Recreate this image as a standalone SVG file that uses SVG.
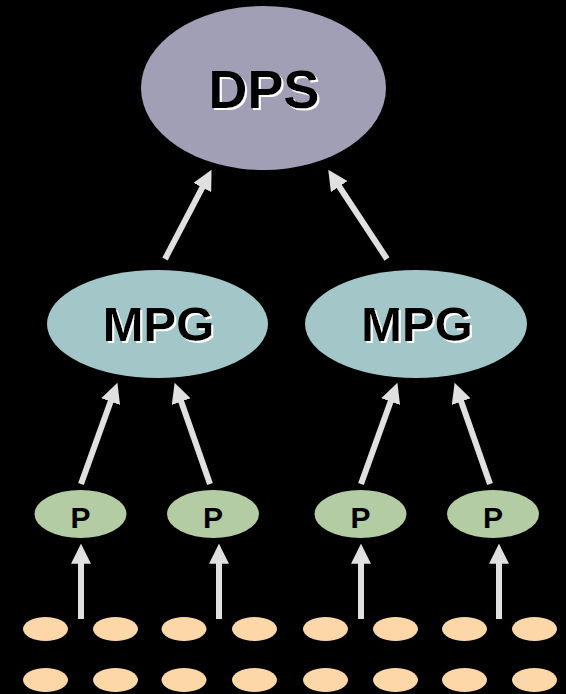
<svg xmlns="http://www.w3.org/2000/svg" width="566" height="694" viewBox="0 0 566 694">
<style>
.bg{fill:#000}
.dps{fill:#a09fb6}
.mpg{fill:#a3c6c8}
.p{fill:#b4cca3}
.leaf{fill:#fed7a8}
.t{font-family:"Liberation Sans",Arial,sans-serif;font-weight:bold;text-anchor:middle;fill:#000}
.shd{filter:url(#wsh)}
.arr{stroke:#e0e0e0;stroke-width:6;fill:none;marker-end:url(#ah)}
</style>
<defs>
<marker id="ah" markerUnits="userSpaceOnUse" markerWidth="20" markerHeight="20" viewBox="0 0 18 18" refX="6" refY="9" orient="auto">
<path d="M0,0 L18,9 L0,18 z" fill="#e0e0e0"/>
</marker>
<filter id="wsh" x="-10%" y="-10%" width="130%" height="130%">
<feFlood flood-color="#fff" result="w"/>
<feComposite in="w" in2="SourceAlpha" operator="in" result="ws"/>
<feOffset in="ws" dx="2" dy="1.5" result="off"/>
<feMerge><feMergeNode in="off"/><feMergeNode in="SourceGraphic"/></feMerge>
</filter>
</defs>
<rect class="bg" x="0" y="0" width="566" height="694"/>
<g id="connectors">
<line class="arr" x1="165" y1="259" x2="205.4" y2="181.6"/>
<line class="arr" x1="387" y1="259" x2="335.6" y2="181"/>
<line class="arr" x1="81" y1="484" x2="112.9" y2="395.3"/>
<line class="arr" x1="210" y1="484" x2="179" y2="395.3"/>
<line class="arr" x1="361" y1="484" x2="392.9" y2="395.3"/>
<line class="arr" x1="490" y1="484" x2="459" y2="395.3"/>
<line class="arr" x1="81" y1="619" x2="81" y2="557"/>
<line class="arr" x1="219" y1="619" x2="219" y2="557"/>
<line class="arr" x1="361" y1="619" x2="361" y2="557"/>
<line class="arr" x1="499" y1="619" x2="499" y2="557"/>
</g>
<g id="dps">
<ellipse class="dps" cx="263.5" cy="88" rx="122.5" ry="82"/>
<text class="t shd" x="264" y="108" font-size="54">DPS</text>
</g>
<g id="mpg1">
<ellipse class="mpg" cx="157.5" cy="324" rx="110.5" ry="54"/>
<text class="t shd" x="158.5" y="341" font-size="49">MPG</text>
</g>
<g id="mpg2">
<ellipse class="mpg" cx="416" cy="324" rx="111" ry="54"/>
<text class="t shd" x="417" y="341" font-size="49">MPG</text>
</g>
<g id="p1"><ellipse class="p" cx="80.5" cy="514" rx="46" ry="24"/><text class="t" x="80.5" y="528" font-size="30">P</text></g>
<g id="p2"><ellipse class="p" cx="213" cy="514" rx="46" ry="24"/><text class="t" x="213" y="528" font-size="30">P</text></g>
<g id="p3"><ellipse class="p" cx="360.5" cy="514" rx="46" ry="24"/><text class="t" x="360.5" y="528" font-size="30">P</text></g>
<g id="p4"><ellipse class="p" cx="493" cy="514" rx="46" ry="24"/><text class="t" x="493" y="528" font-size="30">P</text></g>
<g id="leaves">
<ellipse class="leaf" cx="45.5" cy="629" rx="22.5" ry="12"/>
<ellipse class="leaf" cx="115.5" cy="629" rx="22.5" ry="12"/>
<ellipse class="leaf" cx="184" cy="629" rx="22.5" ry="12"/>
<ellipse class="leaf" cx="254.5" cy="629" rx="22.5" ry="12"/>
<ellipse class="leaf" cx="325.5" cy="629" rx="22.5" ry="12"/>
<ellipse class="leaf" cx="395.5" cy="629" rx="22.5" ry="12"/>
<ellipse class="leaf" cx="464.5" cy="629" rx="22.5" ry="12"/>
<ellipse class="leaf" cx="534.5" cy="629" rx="22.5" ry="12"/>
<ellipse class="leaf" cx="45.5" cy="680" rx="22.5" ry="12"/>
<ellipse class="leaf" cx="115.5" cy="680" rx="22.5" ry="12"/>
<ellipse class="leaf" cx="184" cy="680" rx="22.5" ry="12"/>
<ellipse class="leaf" cx="254.5" cy="680" rx="22.5" ry="12"/>
<ellipse class="leaf" cx="325.5" cy="680" rx="22.5" ry="12"/>
<ellipse class="leaf" cx="395.5" cy="680" rx="22.5" ry="12"/>
<ellipse class="leaf" cx="464.5" cy="680" rx="22.5" ry="12"/>
<ellipse class="leaf" cx="534.5" cy="680" rx="22.5" ry="12"/>
</g>
</svg>
